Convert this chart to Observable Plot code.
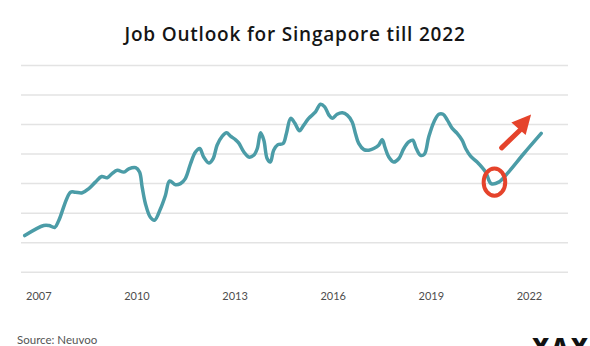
<!DOCTYPE html>
<html><head><meta charset="utf-8">
<script src="https://cdn.jsdelivr.net/npm/d3@7"></script>
<script src="https://cdn.jsdelivr.net/npm/@observablehq/plot@0.6"></script>
<style>
html,body{margin:0;padding:0;background:#fff;}
#wrap{position:relative;width:590px;height:346px;overflow:hidden;background:#fff;}
#chart{position:absolute;left:0;top:0;}
#title{position:absolute;left:0;top:25px;width:590px;text-align:center;font-family:"Open Sans",sans-serif;font-weight:600;font-size:19px;line-height:19px;letter-spacing:0.8px;color:#151515;white-space:nowrap;}
#source{position:absolute;left:17px;top:334px;font-family:Lato,sans-serif;font-size:11.5px;line-height:11.5px;color:#555;white-space:nowrap;}
#logo{position:absolute;left:532px;top:334.8px;font-family:"Open Sans",sans-serif;font-weight:800;font-size:24px;line-height:24px;color:#111;letter-spacing:2px;white-space:nowrap;}
</style></head>
<body>
<div id="wrap">
  <div id="chart"></div>
  <div id="title">Job Outlook for Singapore till 2022</div>
  <div id="source">Source: Neuvoo</div>
  <div id="logo">XAX</div>
</div>
<script>
const years = [2006.57,2007.15,2007.31,2007.49,2007.61,2007.97,2008.12,2008.33,2008.53,2008.73,2008.92,2009.09,2009.24,2009.40,2009.60,2009.75,2009.96,2010.08,2010.16,2010.26,2010.41,2010.54,2010.72,2010.87,2011.00,2011.18,2011.33,2011.48,2011.64,2011.79,2011.92,2012.04,2012.20,2012.33,2012.45,2012.61,2012.74,2012.86,2013.01,2013.11,2013.27,2013.42,2013.57,2013.68,2013.78,2013.88,2013.98,2014.08,2014.18,2014.31,2014.47,2014.57,2014.70,2014.83,2014.97,2015.10,2015.25,2015.46,2015.61,2015.74,2015.87,2015.97,2016.12,2016.28,2016.43,2016.58,2016.68,2016.78,2016.94,2017.09,2017.24,2017.39,2017.50,2017.58,2017.70,2017.85,2018.01,2018.16,2018.31,2018.43,2018.54,2018.67,2018.79,2018.92,2019.08,2019.23,2019.36,2019.49,2019.64,2019.79,2019.94,2020.05,2020.20,2020.40,2020.66,2020.83,2021.06,2021.32,2021.83,2022.36];
const values = [1.24,1.58,1.58,1.52,1.75,2.71,2.71,2.69,2.83,3.05,3.24,3.20,3.34,3.45,3.39,3.50,3.54,3.39,2.88,2.32,1.86,1.76,2.15,2.60,3.09,2.96,3.00,3.17,3.68,4.07,4.19,3.90,3.70,3.85,4.30,4.61,4.72,4.61,4.49,4.38,4.07,3.90,3.96,4.19,4.72,4.47,3.85,3.73,4.13,4.32,4.36,4.70,5.21,5.04,4.79,4.98,5.21,5.43,5.69,5.60,5.32,5.21,5.35,5.40,5.32,5.09,4.70,4.36,4.15,4.13,4.19,4.30,4.49,4.24,3.90,3.73,3.85,4.19,4.41,4.47,4.19,3.96,4.00,4.58,5.09,5.35,5.35,5.15,4.87,4.70,4.47,4.19,3.93,3.73,3.39,3.00,3.05,3.34,4.02,4.70];
const tickYears = [2007,2010,2013,2016,2019,2022];
const gridLevels = [0,1,2,3,4,5,6,7];
// annotations (data coordinates)
const circleMark = [{year:2020.93, value:3.05}];
const arrowShaft = [{x1:2021.15, y1:4.21, x2:2021.70, y2:4.80}];
const arrowTip = [{year:2022.05, value:5.34}];

const series = years.map((y,i)=>({year:y, value:values[i]}));

const RED = "#e5432b";
const TEAL = "#4b9ca7";

const ellipseSymbol = {
  draw(ctx){
    const rx = 10.8, ry = 13.7, k = 0.5523;
    ctx.moveTo(rx,0);
    ctx.bezierCurveTo(rx, ry*k, rx*k, ry, 0, ry);
    ctx.bezierCurveTo(-rx*k, ry, -rx, ry*k, -rx, 0);
    ctx.bezierCurveTo(-rx, -ry*k, -rx*k, -ry, 0, -ry);
    ctx.bezierCurveTo(rx*k, -ry, rx, -ry*k, rx, 0);
    ctx.closePath();
  }
};
const headSymbol = {
  draw(ctx){
    const th = 41.4*Math.PI/180, L = 19, W = 9.5;
    const bx = -L*Math.sin(th), by = L*Math.cos(th);
    const px = Math.cos(th), py = Math.sin(th);
    ctx.moveTo(0,0);
    ctx.lineTo(bx + W*px, by + W*py);
    ctx.lineTo(bx - W*px, by - W*py);
    ctx.closePath();
  }
};

const chart = Plot.plot({
  width: 590,
  height: 346,
  marginLeft: 21,
  marginRight: 22,
  marginTop: 65,
  marginBottom: 74.3,
  style: {background: "transparent", fontFamily: "Lato, sans-serif"},
  x: {domain: [2006.471, 2023.194]},
  y: {domain: [0, 7], axis: null},
  marks: [
    Plot.ruleY(gridLevels, {stroke: "#e3e3e3", strokeWidth: 1.5}),
    Plot.axisX({ticks: tickYears, tickSize: 0, tickPadding: 20, tickFormat: d => String(d), fontSize: 11, color: "#4d4d4d"}),
    Plot.line(series, {x: "year", y: "value", curve: "catmull-rom", stroke: TEAL, strokeWidth: 3.5, strokeLinecap: "round", strokeLinejoin: "round"}),
    Plot.dot(circleMark, {x: "year", y: "value", symbol: ellipseSymbol, r: 10, fill: "none", stroke: RED, strokeWidth: 4}),
    Plot.link(arrowShaft, {x1: "x1", y1: "y1", x2: "x2", y2: "y2", stroke: RED, strokeWidth: 5, strokeLinecap: "round"}),
    Plot.dot(arrowTip, {x: "year", y: "value", symbol: headSymbol, r: 10, fill: RED, stroke: "none"})
  ]
});
document.getElementById("chart").appendChild(chart);
</script>
</body></html>
